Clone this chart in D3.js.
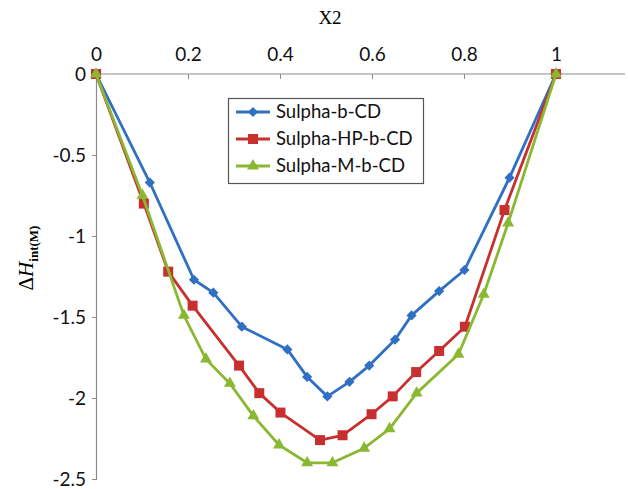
<!DOCTYPE html>
<html>
<head>
<meta charset="utf-8">
<script src="https://cdn.jsdelivr.net/npm/d3@7"></script>
<style>
  body { margin: 0; background: #fff; }
  svg { display: block; }
</style>
</head>
<body>
<svg id="chart" width="628" height="489"></svg>
<script>
// mole fraction X2 and interaction enthalpy for each series
const seriesNames = ["Sulpha-b-CD", "Sulpha-HP-b-CD", "Sulpha-M-b-CD"];
const xBlue = [0, 0.117, 0.213, 0.255, 0.317, 0.416, 0.459, 0.503, 0.551, 0.594, 0.65, 0.686, 0.746, 0.801, 0.899, 1];
const yBlue = [0, -0.67, -1.27, -1.35, -1.56, -1.70, -1.87, -1.99, -1.90, -1.80, -1.64, -1.49, -1.34, -1.21, -0.64, 0];
const xRed = [0, 0.104, 0.157, 0.21, 0.311, 0.355, 0.401, 0.487, 0.536, 0.599, 0.645, 0.696, 0.746, 0.802, 0.888, 1];
const yRed = [0, -0.80, -1.22, -1.43, -1.80, -1.97, -2.09, -2.26, -2.23, -2.10, -1.99, -1.84, -1.71, -1.56, -0.84, 0];
const xGreen = [0, 0.101, 0.191, 0.239, 0.291, 0.342, 0.398, 0.459, 0.514, 0.583, 0.638, 0.697, 0.788, 0.843, 0.896, 1];
const yGreen = [0, -0.75, -1.49, -1.76, -1.91, -2.11, -2.29, -2.40, -2.40, -2.31, -2.19, -1.97, -1.73, -1.36, -0.92, 0];
const xTicks = [0, 0.2, 0.4, 0.6, 0.8, 1];
const yTicks = [0, -0.5, -1, -1.5, -2, -2.5];

const colors = ["#2f6fc4", "#c8302f", "#8ab833"];
const shapes = ["diamond", "square", "triangle"];

const svg = d3.select("#chart");
const x = d3.scaleLinear().domain([0, 1.15]).range([96, 625]);
const y = d3.scaleLinear().domain([-2.5, 0]).range([479, 74]);

const labelFont = "Lato, 'Open Sans', sans-serif";

// top x axis
const xAxis = svg.append("g")
    .attr("transform", `translate(0,${y(0)})`)
    .call(d3.axisTop(x).tickValues(xTicks).tickSize(-5).tickPadding(13)
        .tickFormat(d => d3.format("")(d)));
// left y axis
const yAxis = svg.append("g")
    .attr("transform", `translate(${x(0)},0)`)
    .call(d3.axisLeft(y).tickValues(yTicks).tickSize(4).tickPadding(6)
        .tickFormat(d => d === 0 ? "0" : String(d).replace("−", "-")));

[xAxis, yAxis].forEach(g => {
    g.select(".domain").attr("stroke", "#8c8c8c").attr("stroke-width", 1.2);
    g.selectAll(".tick line").attr("stroke", "#8c8c8c");
    g.selectAll(".tick text")
        .attr("fill", "#111")
        .style("font-family", labelFont)
        .style("font-size", "19px");
});
// make the top axis line run to the edge
xAxis.select(".domain").attr("d", `M${x(0)},0H${x(1.15)}`);

// axis titles
svg.append("text")
    .attr("x", 330).attr("y", 24)
    .attr("text-anchor", "middle")
    .style("font-family", "'Liberation Serif', 'Times New Roman', serif")
    .style("font-size", "19px")
    .text("X2");

const yTitle = svg.append("text")
    .attr("transform", "translate(33,258) rotate(-90)")
    .attr("text-anchor", "middle")
    .style("font-family", "'Liberation Serif', 'Times New Roman', serif")
    .style("font-size", "21px");
yTitle.append("tspan").text("Δ");
yTitle.append("tspan").style("font-style", "italic").text("H");
yTitle.append("tspan").attr("dy", 5).style("font-size", "13px").style("font-weight", "bold").text("int(M)");

function marker(shape) {
    if (shape === "diamond") return d3.symbol(d3.symbolSquare, 52)();
    if (shape === "square") return d3.symbol(d3.symbolSquare, 100)();
    return d3.symbol(d3.symbolTriangle, 62)();
}

const allX = [xBlue, xRed, xGreen];
const allY = [yBlue, yRed, yGreen];

const line = d3.line().x(d => x(d[0])).y(d => y(d[1]));

seriesNames.forEach((name, i) => {
    const pts = allX[i].map((v, j) => [v, allY[i][j]]);
    const g = svg.append("g");
    g.append("path")
        .datum(pts)
        .attr("d", line)
        .attr("fill", "none")
        .attr("stroke", colors[i])
        .attr("stroke-width", 2.8)
        .attr("stroke-linejoin", "round");
    g.selectAll("path.m")
        .data(pts)
        .enter()
        .append("path")
        .attr("class", "m")
        .attr("d", marker(shapes[i]))
        .attr("transform", d => `translate(${x(d[0])},${y(d[1])})` + (shapes[i] === "diamond" ? " rotate(45)" : ""))
        .attr("fill", colors[i]);
});

// legend
const legend = svg.append("g");
legend.append("rect")
    .attr("x", 228.5).attr("y", 98.5)
    .attr("width", 195).attr("height", 85)
    .attr("fill", "#fff")
    .attr("stroke", "#555")
    .attr("stroke-width", 1.2);

seriesNames.forEach((name, i) => {
    const ly = 112 + i * 27;
    legend.append("line")
        .attr("x1", 236).attr("x2", 270)
        .attr("y1", ly).attr("y2", ly)
        .attr("stroke", colors[i])
        .attr("stroke-width", 2.8);
    legend.append("path")
        .attr("d", marker(shapes[i]))
        .attr("transform", `translate(253,${ly})` + (shapes[i] === "diamond" ? " rotate(45)" : ""))
        .attr("fill", colors[i]);
    legend.append("text")
        .attr("x", 276).attr("y", ly)
        .attr("dy", "0.35em")
        .style("font-family", labelFont)
        .style("font-size", "18.5px")
        .attr("fill", "#111")
        .text(name);
});
</script>
</body>
</html>
